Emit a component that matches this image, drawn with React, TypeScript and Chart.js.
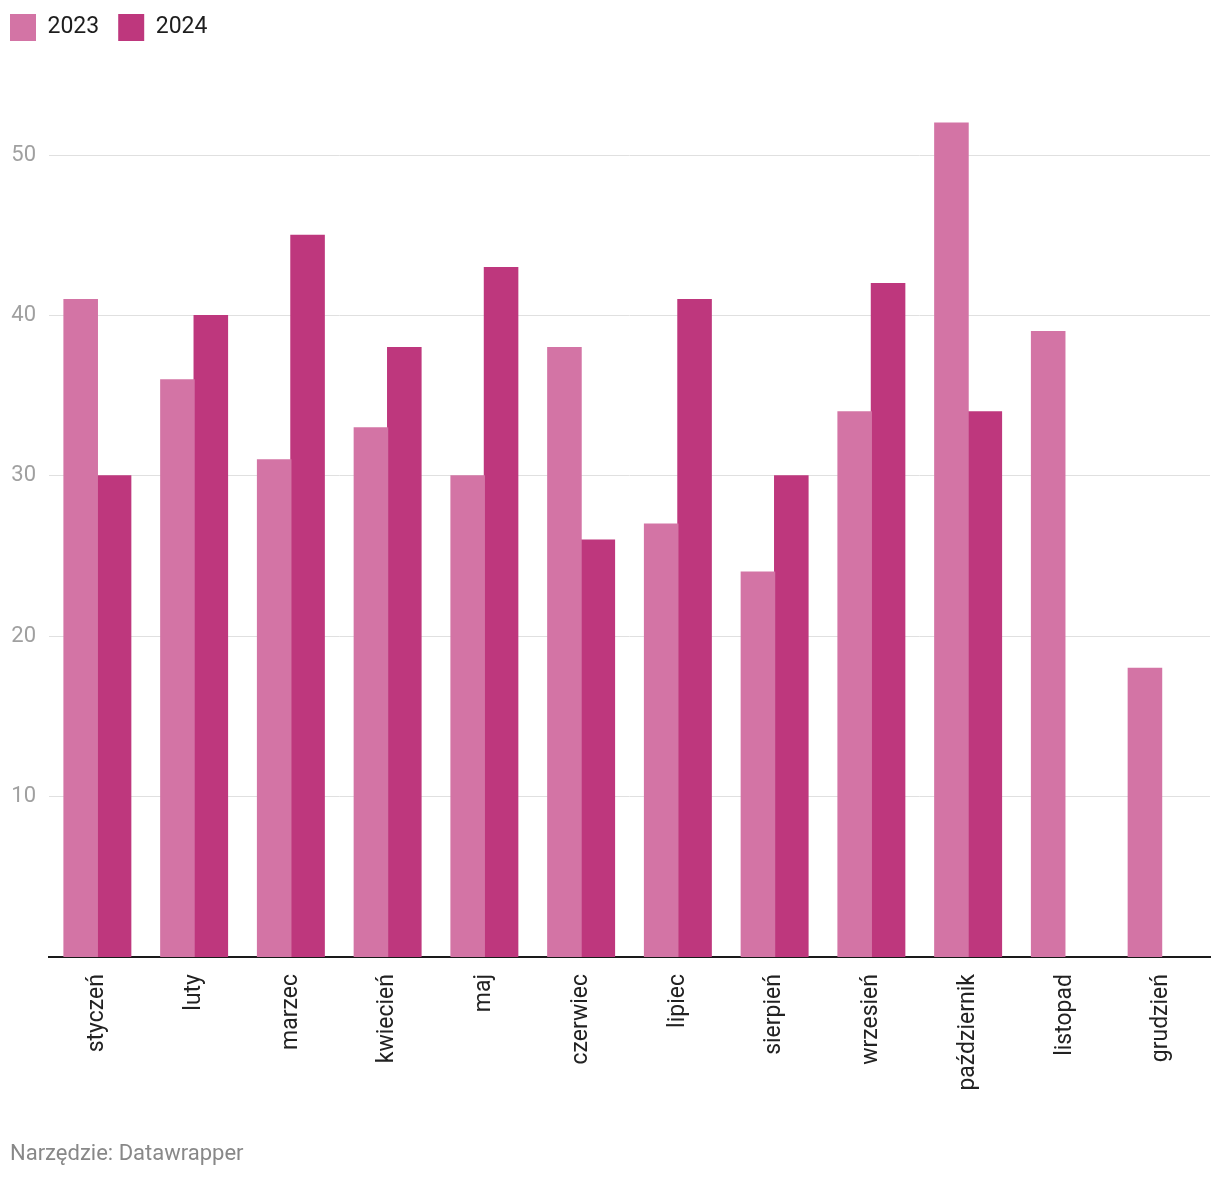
import React, { useEffect, useRef } from "react";
import { Chart, registerables } from "chart.js";

Chart.register(...registerables);

const months = [
  "styczeń", "luty", "marzec", "kwiecień", "maj", "czerwiec",
  "lipiec", "sierpień", "wrzesień", "październik", "listopad", "grudzień",
];
const values2023 = [41, 36, 31, 33, 30, 38, 27, 24, 34, 52, 39, 18];
const values2024: (number | null)[] = [30, 40, 45, 38, 43, 26, 41, 30, 42, 34, null, null];
const yTicks = [0, 10, 20, 30, 40, 50];
const seriesLabels = ["2023", "2024"];
const footerText = "Narzędzie: Datawrapper";

export default function App() {
  const ref = useRef<HTMLCanvasElement | null>(null);

  useEffect(() => {
    if (!ref.current) return;
    Chart.defaults.font.family = "Roboto";
    const chart = new Chart(ref.current, {
      type: "bar",
      data: {
        labels: months,
        datasets: [
          {
            label: seriesLabels[0],
            data: values2023,
            backgroundColor: "#d374a5",
            categoryPercentage: 0.69,
            barPercentage: 1,
            inflateAmount: 0.6,
          },
          {
            label: seriesLabels[1],
            data: values2024,
            backgroundColor: "#be377d",
            categoryPercentage: 0.69,
            barPercentage: 1,
            inflateAmount: 0.6,
          },
        ],
      },
      options: {
        animation: false,
        responsive: true,
        maintainAspectRatio: false,
        layout: { padding: { left: -9, top: -5, right: 10, bottom: 0 } },
        plugins: {
          tooltip: { enabled: false },
          legend: {
            position: "top",
            align: "start",
            labels: {
              boxWidth: 26,
              boxHeight: 27,
              padding: 19,
              color: "#1d1d1d",
              font: { size: 23 },
            },
          },
        },
        scales: {
          x: {
            grid: { display: false, drawTicks: false },
            border: { display: true, color: "#1a1a1a", width: 2 },
            ticks: {
              minRotation: 90,
              maxRotation: 90,
              autoSkip: false,
              padding: 17,
              color: "#222222",
              font: { size: 23 },
            },
            afterFit: (scale: any) => {
              scale.height = 221;
            },
          },
          y: {
            min: 0,
            max: 56.5,
            border: { display: false },
            grid: { color: "#e0e0e0", lineWidth: 1, drawTicks: false },
            afterBuildTicks: (scale: any) => {
              scale.ticks = yTicks.map((v) => ({ value: v }));
            },
            ticks: {
              padding: 13,
              color: "#a0a0a0",
              font: { size: 22 },
              callback: (v: any) => (v === 0 ? "" : String(v)),
            },
            afterFit: (scale: any) => {
              scale.width = 58;
            },
          },
        },
      },
    });
    return () => chart.destroy();
  }, []);

  return (
    <div style={{ position: "relative", width: 1220, height: 1178, margin: "-8px 0 0 -8px" }}>
      <canvas ref={ref} />
      <div
        style={{
          position: "absolute",
          left: 10,
          top: 1140,
          fontFamily: "Roboto",
          fontSize: 22,
          lineHeight: "26px",
          color: "#888888",
          whiteSpace: "nowrap",
        }}
      >
        {footerText}
      </div>
    </div>
  );
}
